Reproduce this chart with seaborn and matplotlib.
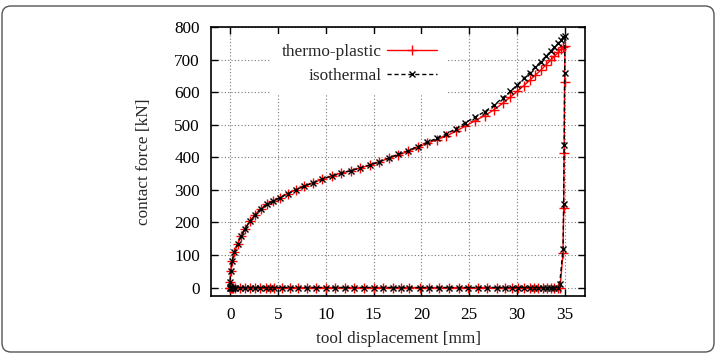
import matplotlib
matplotlib.use("Agg")
import matplotlib.pyplot as plt
import pandas as pd
import seaborn as sns
from matplotlib.patches import FancyBboxPatch
from matplotlib.transforms import IdentityTransform

# ---- data ----
load_x = [0.0, 0.0, 0.05, 0.2, 0.45, 0.8, 1.15, 1.55, 2.05, 2.6, 3.2, 3.85, 4.5,
          5.2, 6.0, 6.85, 7.75, 8.7, 9.65, 10.6, 11.6, 12.6, 13.6, 14.6, 15.6,
          16.6, 17.6, 18.6, 19.6, 20.6, 21.6, 22.6, 23.6, 24.6, 25.6, 26.6, 27.6,
          28.5, 29.3, 30.0, 30.7, 31.3, 31.9, 32.5, 33.0, 33.5, 33.9, 34.3, 34.6,
          34.85, 35.0]
iso_load_y = [0, 18, 50, 80, 108, 135, 158, 180, 203, 224, 242, 256, 265,
              276, 288, 300, 311, 322, 333, 342, 351, 359, 367, 376, 386,
              398, 409, 420, 433, 446, 458, 471, 488, 506, 523, 540, 560,
              583, 602, 622, 642, 660, 677, 694, 710, 725, 738, 750, 760,
              768, 772]
thermo_load_y = [0, 18, 50, 80, 108, 135, 158, 180, 203, 224, 242, 256, 265,
                 276, 288, 300, 311, 322, 333, 342, 351, 359, 367, 376, 386,
                 397, 407, 418, 430, 443, 454, 465, 480, 496, 512, 528, 546,
                 566, 585, 602, 620, 636, 652, 668, 683, 698, 710, 722, 732,
                 739, 742]

iso_unload_x = [34.97, 34.92, 34.87, 34.8, 34.45]
iso_unload_y = [660, 438, 258, 117, 10]
thermo_unload_x = [34.97, 34.92, 34.87, 34.8, 34.5]
thermo_unload_y = [632, 412, 243, 105, 0]

return_x = [34.3, 33.9, 33.5, 33.1, 32.7, 32.2, 31.8, 31.3, 30.7, 30.1, 29.5,
            28.7, 27.9, 26.9, 25.9, 24.9, 23.9, 22.9, 21.8, 20.8, 19.8, 18.7,
            17.9, 17.0, 16.0, 15.0, 14.0, 13.0, 12.0, 11.0, 10.0, 9.0, 8.0,
            7.1, 6.3, 5.4, 4.6, 4.2, 3.7, 3.1, 2.6, 2.1, 1.6, 1.0, 0.5, 0.3,
            0.15, 0.05, 0.0]
return_y = [0, 0, 0, 0, 0, 0, 0, 0, 0, 0, 0,
            0, 0, 0, 0, 0, 0, 0, 0, 0, 0, 0,
            0, 0, 0, 0, 0, 0, 0, 0, 0, 0, 0,
            0, 0, 0, 0, 0, 0, 0, 0, 0, 0, 0, 0, 0,
            0, 0, 0]

series_names = ["thermo-plastic", "isothermal"]
x_ticks = [0, 5, 10, 15, 20, 25, 30, 35]
y_ticks = [0, 100, 200, 300, 400, 500, 600, 700, 800]

thermo = pd.DataFrame({"x": load_x + thermo_unload_x + return_x,
                       "y": thermo_load_y + thermo_unload_y + return_y})
iso = pd.DataFrame({"x": load_x + iso_unload_x + return_x,
                    "y": iso_load_y + iso_unload_y + return_y})

# ---- style ----
sns.set_style("ticks")
plt.rcParams["font.family"] = ["Liberation Serif", "DejaVu Serif"]
FS = 12.4
plt.rcParams["font.size"] = FS

fig = plt.figure(figsize=(7.19, 3.56), dpi=100)
ax = fig.add_axes([211 / 719, 1 - 296 / 356, (585 - 211) / 719, (296 - 27) / 356])

sns.lineplot(data=thermo, x="x", y="y", sort=False, estimator=None, ax=ax,
             color="#ff0000", lw=1.0, marker="+", markersize=6.5,
             markeredgecolor="#ff0000", markeredgewidth=1.0,
             label=series_names[0], zorder=3)
sns.lineplot(data=iso, x="x", y="y", sort=False, estimator=None, ax=ax,
             color="black", lw=1.0, dashes=False, marker="x", markersize=4.5,
             markeredgecolor="black", markeredgewidth=1.0,
             label=series_names[1], zorder=4)
lines = ax.get_lines()
lines[1].set_linestyle((0, (3, 2)))

ax.set_xlim(-2.0, 37.1)
ax.set_ylim(-26, 800)
ax.set_xticks(x_ticks)
ax.set_yticks(y_ticks)
ax.grid(True, color="#777777", linestyle=(0, (1, 2)), linewidth=0.8)
ax.set_axisbelow(True)
ax.tick_params(direction="in", length=5, width=1, top=True, right=True,
               labelsize=FS, pad=8, colors="black")
for s in ax.spines.values():
    s.set_linewidth(1.2)
    s.set_color("black")
ax.set_xlabel("tool displacement [mm]", fontsize=FS, labelpad=6)
ax.set_ylabel("contact force [kN]", fontsize=FS, labelpad=16)

leg = ax.legend(handles=lines[:2], labels=series_names, loc="upper right",
                bbox_to_anchor=((447 - 211) / (585 - 211), 0.975),
                markerfirst=False, frameon=True, fancybox=False,
                framealpha=1.0, facecolor="white", edgecolor="none",
                handlelength=2.9, handletextpad=0.3, labelspacing=0.45,
                borderpad=0.6, fontsize=FS, borderaxespad=0.0)
leg.set_zorder(10)

border = FancyBboxPatch((2, 4), 712, 346, boxstyle="round,pad=0,rounding_size=9",
                        transform=IdentityTransform(), fill=False,
                        edgecolor="#555555", linewidth=1.0)
fig.patches.append(border)

fig.savefig("out.png", dpi=100)
